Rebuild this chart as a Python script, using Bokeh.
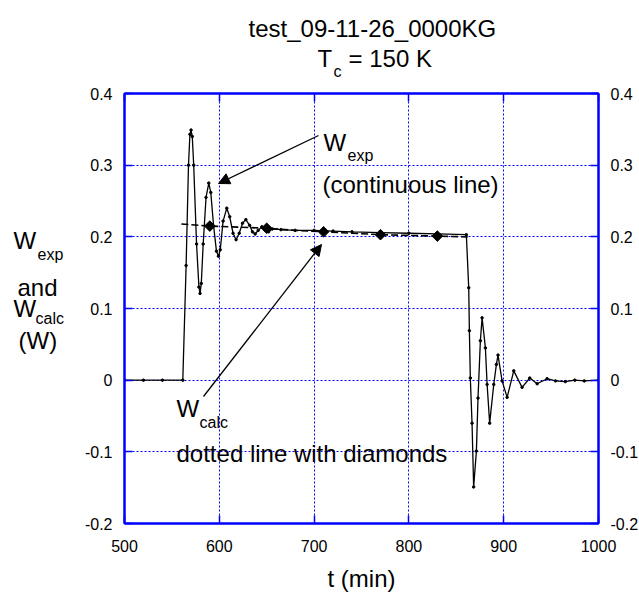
import math
from bokeh.plotting import figure
from bokeh.layouts import column, row
from bokeh.models import (LinearAxis, FixedTicker, CustomJSTickFormatter, Label,
                          Arrow, NormalHead, ColumnDataSource)
from bokeh.embed import file_html
from bokeh.resources import INLINE

# ---------------- data ----------------
t_exp = [500, 520, 540, 561.5, 565.0, 567.5, 569.0, 570.2, 571.5, 573.0, 576.0,
         578.5, 579.7, 581.0, 583.0, 586.0, 588.9, 591.0, 594.0, 597.0, 599.1,
         601.0, 604.0, 607.9, 611.0, 614.5, 617.7, 621.0, 624.5, 628.0, 632.0,
         635.0, 637.8, 641.0, 644.9, 648, 652, 656, 665, 680, 700, 720, 740,
         770, 800, 830, 860.6,
         863.1, 863.8, 864.8, 866.6, 868.3, 871.2, 872.9, 875.4, 877.2,
         880.7, 882.5, 885.2, 889.5, 892.3, 894.0, 898.3, 903.6, 910.6,
         919.4, 927.5, 935.3, 945.8, 954.6, 965, 975, 985, 1000]
w_exp = [0.0, 0.0, 0.0, 0.0, 0.160, 0.300, 0.343, 0.349, 0.340, 0.300, 0.190,
         0.130, 0.121, 0.135, 0.190, 0.255, 0.275, 0.262, 0.215, 0.180, 0.173,
         0.182, 0.222, 0.240, 0.228, 0.205, 0.196, 0.205, 0.219, 0.224, 0.216,
         0.207, 0.204, 0.209, 0.214, 0.210, 0.207, 0.211, 0.210, 0.209, 0.209,
         0.208, 0.207, 0.206, 0.205, 0.204, 0.203,
         0.129, 0.069, 0.003, -0.060, -0.149, -0.099, -0.025, 0.055, 0.087,
         0.045, -0.006, -0.060, -0.006, 0.022, 0.035, -0.001, -0.024, 0.013,
         -0.010, 0.003, -0.005, 0.002, -0.001, -0.002, 0.0, -0.001, 0.0]

t_calc = [560, 590, 620, 650, 680, 710, 740, 770, 800, 830, 862]
w_calc = [0.218, 0.215, 0.2135, 0.212, 0.209, 0.207, 0.205, 0.203, 0.202, 0.201, 0.200]

t_diam = [590, 650, 710, 770, 830]
w_diam = [0.215, 0.212, 0.207, 0.203, 0.201]

x_ticks = [500, 600, 700, 800, 900, 1000]
y_ticks = [-0.2, -0.1, 0.0, 0.1, 0.2, 0.3, 0.4]

# ---------------- layout constants (page pixels) ----------------
BLUE = "#0000ff"
FONT = "Liberation Sans"
PAGE_W, PAGE_H = 639, 597
TITLE_H = 80                 # height of the title strip
LEFT_W = 70                  # width of the left label strip
FRAME_L, FRAME_T = 124, 93   # frame position on the page
FW, FH = 474, 430            # frame size
X0, X1, Y0, Y1 = 500, 1000, -0.2, 0.4

MAIN_W = PAGE_W - LEFT_W
MAIN_H = PAGE_H - TITLE_H

p = figure(frame_width=FW, frame_height=FH, x_range=(X0, X1), y_range=(Y0, Y1),
           output_backend="svg", toolbar_location=None,
           min_border_left=FRAME_L - LEFT_W,
           min_border_right=MAIN_W - (FRAME_L - LEFT_W) - FW,
           min_border_top=FRAME_T - TITLE_H,
           min_border_bottom=MAIN_H - (FRAME_T - TITLE_H) - FH,
           background_fill_color="white", border_fill_color="white",
           outline_line_color=BLUE, outline_line_width=2)

def px(xpage):  # page pixel -> data x (main plot)
    return X0 + (xpage - FRAME_L) * (X1 - X0) / FW

def py(ypage):  # page pixel -> data y (main plot)
    return Y1 - (ypage - FRAME_T) * (Y1 - Y0) / FH

yfmt = CustomJSTickFormatter(code="return (Math.round(tick*10)/10).toString();")
blank = CustomJSTickFormatter(code="return '';")

def style_axis(ax, standoff=12, size="16px"):
    ax.axis_line_color = BLUE
    ax.axis_line_width = 2
    ax.major_tick_line_color = BLUE
    ax.major_tick_line_width = 1.5
    ax.major_tick_in = 8
    ax.major_tick_out = 0
    ax.minor_tick_line_color = None
    ax.major_label_text_font = FONT
    ax.major_label_text_font_size = size
    ax.major_label_text_color = "black"
    ax.major_label_standoff = standoff

p.xaxis.ticker = FixedTicker(ticks=x_ticks)
p.yaxis.ticker = FixedTicker(ticks=y_ticks)
p.yaxis.formatter = yfmt
style_axis(p.xaxis[0], standoff=16)
style_axis(p.yaxis[0], standoff=12)
p.xaxis.axis_label = "t (min)"
p.xaxis.axis_label_text_font = FONT
p.xaxis.axis_label_text_font_size = "24px"
p.xaxis.axis_label_text_font_style = "normal"
p.xaxis.axis_label_text_color = "black"
p.xaxis.axis_label_standoff = 10

ax_top = LinearAxis(ticker=FixedTicker(ticks=x_ticks), formatter=blank)
style_axis(ax_top, standoff=0, size="0px")
p.add_layout(ax_top, "above")
ax_right = LinearAxis(ticker=FixedTicker(ticks=y_ticks), formatter=yfmt)
style_axis(ax_right, standoff=12)
p.add_layout(ax_right, "right")

for g in (p.xgrid[0], p.ygrid[0]):
    g.grid_line_color = BLUE
    g.grid_line_dash = "2 2"
    g.grid_line_width = 1
p.xgrid.ticker = FixedTicker(ticks=x_ticks)
p.ygrid.ticker = FixedTicker(ticks=y_ticks)

# ---------------- series ----------------
src_exp = ColumnDataSource(dict(t=t_exp, w=w_exp))
p.line("t", "w", source=src_exp, line_color="black", line_width=1.3)
p.scatter("t", "w", source=src_exp, size=2.5, color="black")

p.line(t_calc, w_calc, line_color="black", line_width=1.6, line_dash="7 3")
p.scatter(t_diam, w_diam, marker="square", angle=math.pi / 4, size=7.5,
          color="black")

# ---------------- texts inside the plot ----------------
def lab(fig, text, x, y, size="24px"):
    fig.add_layout(Label(x=x, y=y, text=text, text_font=FONT,
                         text_font_size=size, text_color="black",
                         text_align="left", text_baseline="alphabetic"))

lab(p, "W", px(323), py(142))
lab(p, "exp", px(347), py(155), "16px")
lab(p, "(continuous line)", px(322), py(184))
lab(p, "W", px(176), py(408))
lab(p, "calc", px(199), py(422), "16px")
lab(p, "dotted line with diamonds", px(176), py(453))

for (xs, ys, xe, ye) in [(318, 135, 218, 183), (203, 396, 321, 244)]:
    p.add_layout(Arrow(end=NormalHead(size=11, fill_color="black",
                                      line_color="black"),
                       x_start=px(xs), y_start=py(ys), x_end=px(xe), y_end=py(ye),
                       line_color="black", line_width=1.3))

# ---------------- text strips (title, left label) ----------------
def strip(w, h):
    f = figure(width=w, height=h, x_range=(0, w), y_range=(h, 0),
               x_axis_type=None, y_axis_type=None, output_backend="svg",
               toolbar_location=None, min_border=0, outline_line_color=None,
               background_fill_color="white", border_fill_color="white")
    return f

title_fig = strip(PAGE_W, TITLE_H)
lab(title_fig, "test_09-11-26_0000KG", 248, 28)
lab(title_fig, "T", 317, 58)
lab(title_fig, "c", 333, 71, "16px")
lab(title_fig, "= 150 K", 348, 58)

left_fig = strip(LEFT_W, MAIN_H)
oy = TITLE_H
lab(left_fig, "W", 13, 257 - oy)
lab(left_fig, "exp", 37, 274 - oy, "16px")
lab(left_fig, "and", 17, 313 - oy)
lab(left_fig, "W", 13, 338 - oy)
lab(left_fig, "calc", 35, 350 - oy, "16px")
lab(left_fig, "(W)", 18, 377 - oy)

layout = column(title_fig, row(left_fig, p))
open("out.html", "w").write(file_html(layout, INLINE))
